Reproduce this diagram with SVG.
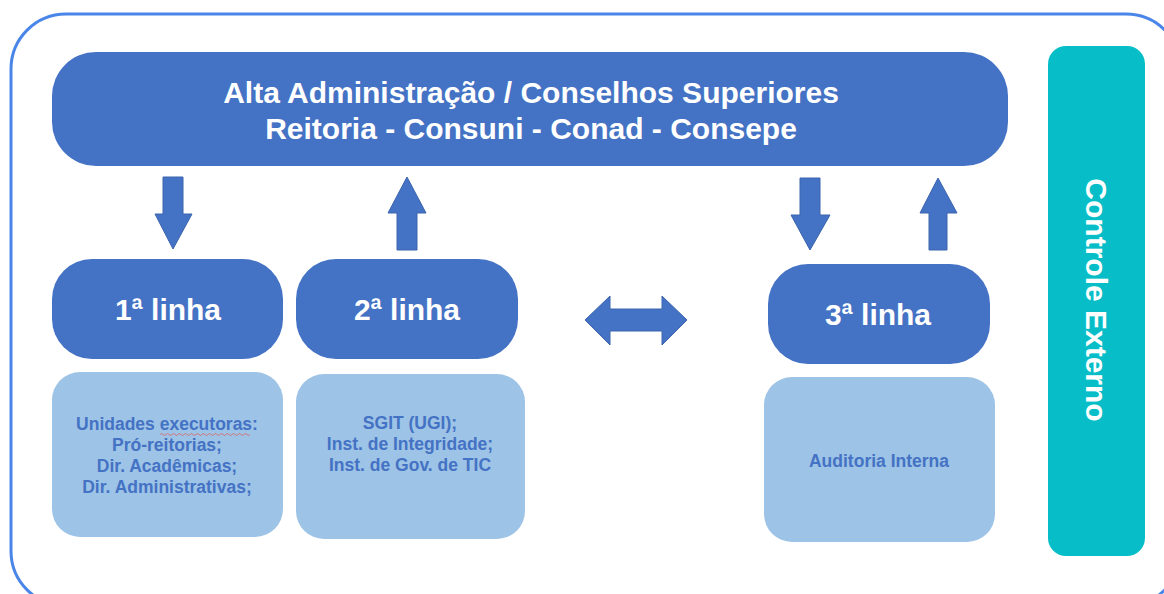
<svg xmlns="http://www.w3.org/2000/svg" width="1164" height="594" viewBox="0 0 1164 594">
<defs>
<style>
.dark{fill:#4472c4;}
.light{fill:#9dc3e6;}
.arrow{fill:#4472c4;stroke:#3b64ad;stroke-width:1;}
.t{font-family:"Liberation Sans",Arial,sans-serif;font-weight:bold;text-anchor:middle;}
.big{font-size:30px;fill:#ffffff;}
.small{font-size:17.5px;fill:#4472c4;}
</style>
</defs>
<rect x="0" y="0" width="1164" height="594" fill="#ffffff"/>
<rect x="11" y="14" width="1170" height="592" rx="55" fill="none" stroke="#4a86e8" stroke-width="3"/>

<g id="alta">
<rect class="dark" x="52" y="52" width="956" height="114" rx="44"/>
<text class="t big" x="531" y="103">Alta Administração / Conselhos Superiores</text>
<text class="t big" x="531" y="139">Reitoria - Consuni - Conad - Consepe</text>
</g>

<g id="linha1">
<rect class="dark" x="52" y="259" width="231" height="100" rx="40"/>
<text class="t big" x="168" y="320">1ª linha</text>
</g>
<g id="linha2">
<rect class="dark" x="296" y="259" width="222" height="100" rx="40"/>
<text class="t big" x="407" y="320">2ª linha</text>
</g>
<g id="linha3">
<rect class="dark" x="768" y="264" width="222" height="100" rx="40"/>
<text class="t big" x="878" y="325">3ª linha</text>
</g>

<g id="box1">
<rect class="light" x="52" y="372" width="231" height="165" rx="28"/>
<text class="t small" x="167" y="430">Unidades executoras:</text>
<text class="t small" x="167" y="451">Pró-reitorias;</text>
<text class="t small" x="167" y="472">Dir. Acadêmicas;</text>
<text class="t small" x="167" y="493">Dir. Administrativas;</text>
<path d="M160 434.5 q1.5 -2 3 0 t3 0 t3 0 t3 0 t3 0 t3 0 t3 0 t3 0 t3 0 t3 0 t3 0 t3 0 t3 0 t3 0 t3 0 t3 0 t3 0 t3 0 t3 0 t3 0 t3 0 t3 0 t3 0 t3 0 t3 0 t3 0 t3 0 t3 0 t3 0 t3 0" fill="none" stroke="#e06060" stroke-width="0.8"/>
</g>
<g id="box2">
<rect class="light" x="296" y="374" width="229" height="165" rx="28"/>
<text class="t small" x="410" y="429">SGIT (UGI);</text>
<text class="t small" x="410" y="450">Inst. de Integridade;</text>
<text class="t small" x="410" y="471">Inst. de Gov. de TIC</text>
</g>
<g id="box3">
<rect class="light" x="764" y="377" width="231" height="165" rx="28"/>
<text class="t small" x="879" y="467">Auditoria Interna</text>
</g>

<g id="externo">
<rect x="1048" y="46" width="97" height="510" rx="18" fill="#07bec8"/>
<text class="t big" transform="translate(1096,300) rotate(90)" x="0" y="10">Controle Externo</text>
</g>

<g id="connectors">
<polygon class="arrow" points="163,177 183,177 183,214 192,214 173,249 155,214 163,214"/>
<polygon class="arrow" points="397,250 417,250 417,213 426,213 407,177 388,213 397,213"/>
<polygon class="arrow" points="800,178 820,178 820,215 830,215 810,250 791,215 800,215"/>
<polygon class="arrow" points="929,250 947,250 947,213 957,213 938,178 920,213 929,213"/>
<polygon class="arrow" points="585,320 610,296 610,309 662,309 662,296 687,320 662,345 662,331 610,331 610,345"/>
</g>
</svg>
